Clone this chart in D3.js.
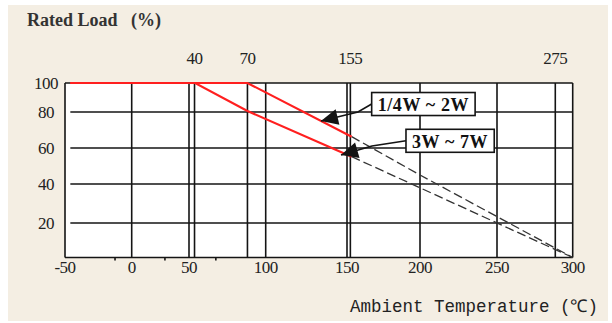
<!DOCTYPE html>
<html><head><meta charset="utf-8">
<script src="https://cdn.jsdelivr.net/npm/d3@7"></script>
<style>body{margin:0;background:#fff}svg{display:block}</style>
</head><body>
<svg id="chart" width="612" height="323"></svg>
<script>
// ---------- data ----------
const xTicks = [-50, 0, 50, 100, 150, 200, 250, 300];
const yTicks = [0, 20, 40, 60, 80, 100];
const yLabelTicks = [20, 40, 60, 80, 100];
const markerTemps = [53.6, 88.1, 152.3, 288.5];
const markerLabels = ["40", "70", "155", "275"];
const minorTicks = [-12.5, 29, 67.5];
const gridStart = -46;
const smallSolid = [[-46, 100], [88.1, 100], [153.2, 66.3]];
const smallDashed = [[153.2, 66.3], [200, 45], [300, 0]];
const largeSolid = [[-46, 100], [54, 100], [88.1, 80.7], [153.2, 55.2]];
const largeDashed = [[153.2, 55.2], [300, 0]];
const seriesLabels = ["1/4W ~ 2W", "3W ~ 7W"];
const labelAnchors = [[166.9, 85.5], [190.4, 64]];
const labelElbows = [[157.5, 80], [167.1, 61.1]];
const labelTips = [[134, 75], [146.3, 56.1]];
const yTitle = "Rated Load   (%)";
const xTitle = "Ambient Temperature (\u2103)";

// ---------- layout ----------
const svg = d3.select("#chart");
const x = d3.scaleLinear().domain(xTicks).range([65, 131.7, 189, 265.7, 347, 420, 497, 572.7]);
const y = d3.scaleLinear().domain(yTicks).range([257.5, 223, 184, 148, 112, 83]);
const serif = "'Liberation Serif','Times New Roman',serif";
const ink = "#141414";

svg.append("rect").attr("x", 8).attr("y", 5).attr("width", 600).attr("height", 316).attr("fill", "#f4eee3");
svg.append("rect").attr("x", x(-50)).attr("y", y(100))
  .attr("width", x(300) - x(-50)).attr("height", y(0) - y(100)).attr("fill", "#ffffff");

// horizontal grid
const g = svg.append("g").attr("stroke", ink).attr("stroke-width", 1.6);
g.selectAll("line.h").data([20, 40, 60, 80]).join("line")
  .attr("x1", x(gridStart)).attr("x2", x(300)).attr("y1", d => y(d)).attr("y2", d => y(d));
g.selectAll("line.b").data([0, 100]).join("line")
  .attr("x1", x(-50)).attr("x2", x(300)).attr("y1", d => y(d)).attr("y2", d => y(d));
// vertical grid
g.selectAll("line.v").data(xTicks).join("line")
  .attr("x1", d => x(d)).attr("x2", d => x(d)).attr("y1", y(100)).attr("y2", y(0));
g.selectAll("line.m").data(markerTemps).join("line")
  .attr("x1", d => x(d)).attr("x2", d => x(d)).attr("y1", y(100)).attr("y2", y(0));
g.selectAll("line.t").data(minorTicks).join("line")
  .attr("x1", d => x(d)).attr("x2", d => x(d)).attr("y1", y(0)).attr("y2", y(0) + 3);

// curves
const line = d3.line().x(d => x(d[0])).y(d => y(d[1]));
[smallDashed, largeDashed].forEach(c => svg.append("path").attr("d", line(c))
  .attr("fill", "none").attr("stroke", "#333").attr("stroke-width", 1.3).attr("stroke-dasharray", "9,4"));
[smallSolid, largeSolid].forEach(c => svg.append("path").attr("d", line(c))
  .attr("fill", "none").attr("stroke", "#ff1f1f").attr("stroke-width", 2.2));

// tick labels
svg.append("g").selectAll("text").data(xTicks).join("text")
  .attr("x", d => x(d)).attr("y", 273).attr("text-anchor", "middle")
  .attr("font-family", serif).attr("font-size", 17).attr("fill", "#222").attr("letter-spacing", -0.5)
  .text(d => d);
svg.append("g").selectAll("text").data(yLabelTicks).join("text")
  .attr("x", 46).attr("y", d => y(d)).attr("dy", "0.35em").attr("text-anchor", "middle")
  .attr("font-family", serif).attr("font-size", 17).attr("fill", "#222").attr("letter-spacing", -0.5)
  .text(d => d);
svg.append("g").selectAll("text").data(markerTemps).join("text")
  .attr("x", d => x(d)).attr("y", 64).attr("text-anchor", "middle")
  .attr("font-family", serif).attr("font-size", 17).attr("fill", "#222").attr("letter-spacing", -0.5)
  .text((d, i) => markerLabels[i]);

// titles
svg.append("text").attr("x", 27).attr("y", 26).attr("font-family", serif).attr("font-size", 18)
  .attr("font-weight", "bold").attr("fill", "#333").style("white-space", "pre").text(yTitle);
svg.append("text").attr("x", 598).attr("y", 312).attr("text-anchor", "end")
  .attr("font-family", "'Liberation Mono','DejaVu Sans Mono',monospace").attr("font-size", 17.5)
  .attr("fill", "#222").text(xTitle);

// annotations
seriesLabels.forEach((lab, i) => {
  const ax = x(labelAnchors[i][0]), ay = y(labelAnchors[i][1]);
  const ex = x(labelElbows[i][0]), ey = y(labelElbows[i][1]);
  const tx = x(labelTips[i][0]), ty = y(labelTips[i][1]);
  svg.append("path").attr("d", `M${ax},${ay}L${ex},${ey}L${tx},${ty}`)
    .attr("fill", "none").attr("stroke", ink).attr("stroke-width", 1.6);
  const ang = Math.atan2(ty - ey, tx - ex);
  const L = 17, W = 8;
  const bx = tx - L * Math.cos(ang), by = ty - L * Math.sin(ang);
  const px = -Math.sin(ang) * W, py = Math.cos(ang) * W;
  svg.append("path").attr("d", `M${tx},${ty}L${bx + px},${by + py}L${bx - px},${by - py}Z`).attr("fill", ink);
  const grp = svg.append("g");
  const t = grp.append("text").attr("x", ax + 6).attr("y", ay + 7)
    .attr("font-family", serif).attr("font-size", 18).attr("font-weight", "bold")
    .attr("letter-spacing", 0.6).attr("fill", "#111").text(lab);
  const w = t.node().getComputedTextLength();
  grp.insert("rect", "text").attr("x", ax).attr("y", ay - 11.5).attr("width", w + 12).attr("height", 23)
    .attr("fill", "#fff").attr("stroke", ink).attr("stroke-width", 1.6);
});
</script>
</body></html>
